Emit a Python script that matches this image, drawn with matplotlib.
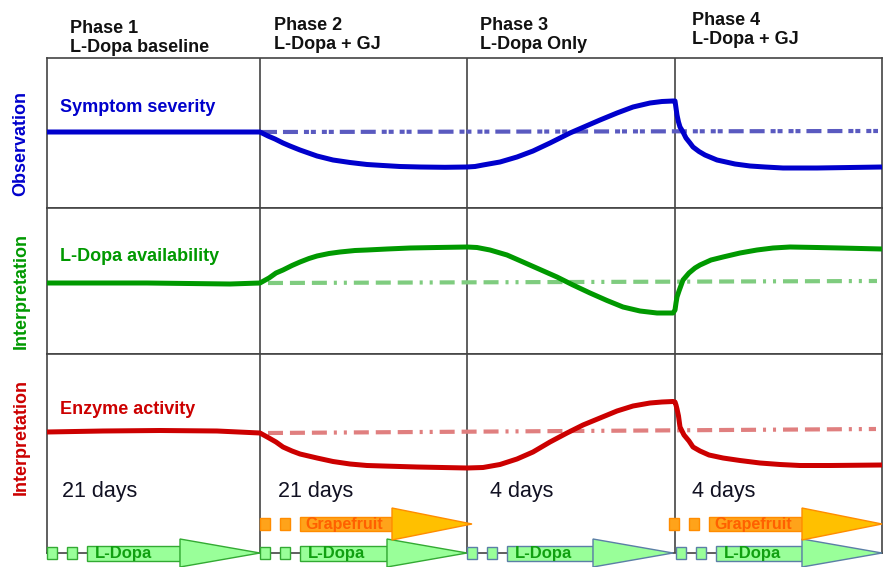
import matplotlib
matplotlib.use("Agg")
import matplotlib.pyplot as plt
from matplotlib.patches import Polygon, Rectangle

plt.rcParams['font.family'] = ['Liberation Sans', 'DejaVu Sans']
plt.rcParams['lines.scale_dashes'] = False

# ---- data: x = position along the timeline (0..835), y = change from baseline ----
phase_edges = [0, 213, 420, 628, 835]
phase_titles = ["Phase 1\nL-Dopa baseline", "Phase 2\nL-Dopa + GJ",
                "Phase 3\nL-Dopa Only", "Phase 4\nL-Dopa + GJ"]
phase_days = ["21 days", "21 days", "4 days", "4 days"]

symptom_x = [0, 100, 213, 221, 228, 236, 243, 253, 270, 286, 303, 320, 336, 353, 373, 398, 420,
             428, 436, 453, 470, 486, 503, 513, 523, 538, 553, 570, 586, 603, 615, 626,
             628, 629, 630, 631.5, 633, 636, 639, 643, 646, 652, 658, 664, 670, 679, 688,
             703, 718, 736, 770, 803, 835]
symptom_y = [0, 0, 0, -4, -7, -11, -14, -18, -24, -28, -30.5, -32.5, -33.5, -34.5, -35, -35.3, -35,
             -34.5, -33, -30, -25, -19, -11, -6, -1, 5.5, 12, 19, 25, 29, 30.5, 31,
             31, 24, 17, 10, 5, 0, -6, -11, -15, -19.5, -23, -25.5, -28, -30, -32,
             -34, -35, -36, -36, -35.5, -35]

ldopa_x = [0, 100, 183, 213, 222, 229, 236, 245, 253, 262, 270, 282, 293, 308, 320, 340, 363, 390, 420,
           430, 443, 460, 476, 493, 510, 526, 543, 560, 576, 593, 610, 626,
           628, 629, 630, 632, 636, 642, 648, 653, 664, 676, 693, 710, 726, 743, 770, 793, 835]
ldopa_y = [0, 0, -1, 0, 5, 10, 13, 17.5, 21, 24.5, 27, 29.5, 31, 32.5, 33, 34, 35, 35.5, 36,
           35.5, 33, 28, 21, 13.5, 6, -2, -10, -17.5, -24, -28, -30, -30,
           -27, -20, -14, -8, 3, 10, 15, 18, 23, 26, 30, 33, 35, 36, 35.5, 35, 34]

enzyme_x = [0, 56, 113, 170, 213, 222, 229, 236, 245, 253, 270, 286, 303, 320, 336, 353, 370, 395, 420,
            436, 453, 470, 486, 503, 520, 536, 553, 570, 586, 603, 615, 626,
            628, 629, 630, 631.5, 633, 637, 642, 646, 653, 662, 676, 693, 713, 733, 753, 783, 835]
enzyme_y = [0, 1, 1.5, 1, -1, -6, -10, -15, -19, -22, -26, -29.5, -32, -33.5, -34, -34.5, -35, -35.5, -36,
            -35.5, -32.5, -27, -20, -10, -1, 7, 14, 21, 26, 29, 30, 30.5,
            30, 27, 23, 16, 5, -3, -9, -15, -19, -23, -26, -28.5, -31, -32.5, -33.5, -33.5, -33]

symptom_ref_x, symptom_ref = [215, 831], [0, 1]
ldopa_ref_x, ldopa_ref = [221, 830], [0, 2]
enzyme_ref_x, enzyme_ref = [221, 829], [-1, 3]

row_labels = ["Symptom severity", "L-Dopa availability", "Enzyme activity"]
side_labels = ["Observation", "Interpretation", "Interpretation"]
colors = ['#0000cc', '#009900', '#cc0000']
ref_colors = ['#5a5ac0', '#7fcc7f', '#e07f7f']

ldopa_start = [0, 213, 420, 629]
ldopa_end = [213, 420, 626, 835]
ldopa_edge = ['#33aa33', '#33aa33', '#5b7fa6', '#5b7fa6']
grape_start = [213, 622]
grape_end = [425, 835]

# ---- layout (pixels) ----
W, H = 883, 567
left_px, right_px = 47, 882
row_top = [58, 208, 354]
row_bot = [208, 354, 553]
row_base = [132, 283, 432]

fig = plt.figure(figsize=(W / 100, H / 100), dpi=100)


def fx(x):
    return x / W


def fy(y):
    return 1 - y / H


axes = []
for i in range(3):
    ax = fig.add_axes([fx(left_px), fy(row_bot[i]), (right_px - left_px) / W,
                       (row_bot[i] - row_top[i]) / H])
    ax.set_xlim(phase_edges[0], phase_edges[-1])
    ax.set_ylim(row_base[i] - row_bot[i], row_base[i] - row_top[i])
    ax.set_xticks([])
    ax.set_yticks([])
    for s in ax.spines.values():
        s.set_color('#444444')
        s.set_linewidth(1.2)
    for e in phase_edges[1:-1]:
        ax.axvline(e, color='#444444', lw=1.2, zorder=1)
    axes.append(ax)

series = [(symptom_x, symptom_y, symptom_ref_x, symptom_ref),
          (ldopa_x, ldopa_y, ldopa_ref_x, ldopa_ref),
          (enzyme_x, enzyme_y, enzyme_ref_x, enzyme_ref)]
dash_blue = [10.8, 4.3, 10.8, 4.3, 3.6, 1.4, 3.6, 4.3, 3.6, 1.4, 3.6, 4.3]
dash_dashdot = [10.8, 5, 10.8, 5, 10.8, 5, 2.2, 5, 2.2, 5]
for i, (xs, ys, rx, ry) in enumerate(series):
    ax = axes[i]
    ln, = ax.plot(rx, ry, color=ref_colors[i], lw=3, zorder=2)
    ln.set_dashes(dash_blue if i == 0 else dash_dashdot)
    ax.plot(xs, ys, color=colors[i], lw=3.6, zorder=3,
            solid_capstyle='butt', solid_joinstyle='round')
    fig.text(fx(60), fy([107, 257, 410][i]), row_labels[i], color=colors[i],
             fontsize=13, fontweight='bold', va='center', ha='left')
    fig.text(fx(21), fy([144, 291, 437][i]), side_labels[i], color=colors[i],
             fontsize=13, fontweight='bold', va='center', ha='center',
             rotation=90)

# phase titles and durations
title_x = [70, 274, 480, 692]
title_y = [38, 35, 35, 30]
days_x = [62, 278, 490, 692]
for i in range(4):
    fig.text(fx(title_x[i]), fy(title_y[i]), phase_titles[i], fontsize=13,
             fontweight='bold', color='#111111', va='center', ha='left',
             linespacing=1.2)
    fig.text(fx(days_x[i]), fy(492), phase_days[i], fontsize=15.5,
             color='#111122', va='center', ha='left')

# treatment arrows drawn in the bottom row (1 unit = 1 px on both axes)
axb = axes[2]


def draw_arrow(x0, x1, yc, hb, hh, body_fc, head_fc, ec, label, tc, tsize, tpad):
    sq_w, sq_h = 10, 6
    for off in [0, 20]:
        axb.add_patch(Rectangle((x0 + off, yc - sq_h), sq_w, 2 * sq_h,
                                fc=body_fc, ec=ec, lw=1, clip_on=False, zorder=4))
    b0 = x0 + 40
    hs = x1 - 80
    axb.add_patch(Rectangle((b0, yc - hb), hs - b0, 2 * hb, fc=body_fc, ec=ec,
                            lw=1, clip_on=False, zorder=4))
    axb.add_patch(Polygon([(hs, yc - hh), (x1, yc), (hs, yc + hh)], closed=True,
                          fc=head_fc, ec=ec, lw=1, clip_on=False, zorder=4))
    axb.text(b0 + tpad, yc - 0.5, label, color=tc, fontsize=tsize,
             fontweight='bold', va='center', ha='left', zorder=5, clip_on=False)


ybase_b = row_base[2]
for i in range(4):
    draw_arrow(ldopa_start[i], ldopa_end[i], ybase_b - 553, 7.5, 14,
               '#99ff99', '#99ff99', ldopa_edge[i], 'L-Dopa', '#11a011', 12, 8)
for i in range(2):
    draw_arrow(grape_start[i], grape_end[i], ybase_b - 524, 7, 16,
               '#ffa31a', '#ffc000', '#ff8c00', 'Grapefruit', '#ff6000', 11.5, 5)

fig.savefig('out.png', dpi=100)
